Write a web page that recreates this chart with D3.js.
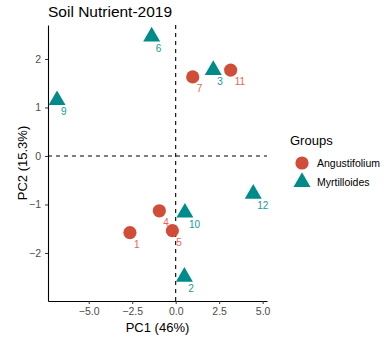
<!DOCTYPE html>
<html>
<head>
<meta charset="utf-8">
<script src="https://cdn.jsdelivr.net/npm/d3@7"></script>
<style>
body { margin: 0; background: #fff; }
text { font-family: "Liberation Sans", Arial, sans-serif; }
</style>
</head>
<body>
<script>
// PCA scores
var ids    = ["1", "2", "3", "4", "5", "6", "7", "9", "10", "11", "12"];
var groups = ["Angustifolium", "Myrtilloides", "Myrtilloides", "Angustifolium", "Angustifolium",
              "Myrtilloides", "Angustifolium", "Myrtilloides", "Myrtilloides", "Angustifolium", "Myrtilloides"];
var pc1 = [-2.63, 0.50, 2.16, -0.94, -0.19, -1.38, 0.98, -6.82, 0.53, 3.16, 4.46];
var pc2 = [-1.58, -2.49, 1.77, -1.13, -1.54, 2.46, 1.63, 1.15, -1.17, 1.77, -0.78];
var groupNames = ["Angustifolium", "Myrtilloides"];
var xTicks = [-5, -2.5, 0, 2.5, 5];
var yTicks = [-2, -1, 0, 1, 2];

var w = 390;
var h = 345;
var margin = {top: 25, right: 123, bottom: 44, left: 48};

var svg = d3.select("body")
            .append("svg")
              .attr("width", w)
              .attr("height", h);

var x = d3.scaleLinear()
          .domain([-7.34, 5.25])
          .range([margin.left, w - margin.right]);
var y = d3.scaleLinear()
          .domain([-2.99, 2.7])
          .range([h - margin.bottom, margin.top]);

var fill = d3.scaleOrdinal().domain(groupNames).range(["#d04e38", "#008b8b"]);
var labelFill = d3.scaleOrdinal().domain(groupNames).range(["#e5654f", "#179a9a"]);
var tri = d3.symbol().type(d3.symbolTriangle).size(125);

// title
svg.append("text")
   .attr("x", margin.left)
   .attr("y", 17)
   .attr("font-size", "15.5px")
   .attr("fill", "#000")
   .text("Soil Nutrient-2019");

// axes
var xAxis = svg.append("g")
   .attr("transform", "translate(0," + (h - margin.bottom) + ")")
   .call(d3.axisBottom(x).tickValues(xTicks).tickFormat(d3.format(".1f"))
           .tickSizeInner(3).tickSizeOuter(0).tickPadding(4));
var yAxis = svg.append("g")
   .attr("transform", "translate(" + margin.left + ",0)")
   .call(d3.axisLeft(y).tickValues(yTicks).tickFormat(d3.format("d"))
           .tickSizeInner(3).tickSizeOuter(0).tickPadding(4));

[xAxis, yAxis].forEach(function(a) {
  a.select(".domain").attr("stroke", "#000").attr("stroke-width", 1.1);
  a.selectAll(".tick line").attr("stroke", "#333");
  a.selectAll(".tick text").attr("fill", "#4d4d4d").attr("font-size", "10.5px")
   .attr("font-family", "Liberation Sans, Arial, sans-serif");
});

// zero lines
svg.append("line")
   .attr("x1", x(0)).attr("x2", x(0))
   .attr("y1", margin.top).attr("y2", h - margin.bottom)
   .attr("stroke", "#000").attr("stroke-width", 1.1)
   .attr("stroke-dasharray", "4,4");
svg.append("line")
   .attr("x1", margin.left).attr("x2", w - margin.right)
   .attr("y1", y(0)).attr("y2", y(0))
   .attr("stroke", "#000").attr("stroke-width", 1.1)
   .attr("stroke-dasharray", "4,4");

// axis titles
svg.append("text")
   .attr("x", (margin.left + w - margin.right) / 2)
   .attr("y", 332)
   .attr("text-anchor", "middle")
   .attr("font-size", "13px")
   .text("PC1 (46%)");
svg.append("text")
   .attr("transform", "translate(27," + (margin.top + h - margin.bottom) / 2 + ") rotate(-90)")
   .attr("text-anchor", "middle")
   .attr("font-size", "13px")
   .text("PC2 (15.3%)");

// points
var data = ids.map(function(d, i) {
  return {id: d, group: groups[i], x: pc1[i], y: pc2[i]};
});

svg.selectAll(".pt")
   .data(data)
   .enter()
   .append("path")
     .attr("class", "pt")
     .attr("transform", function(d) { return "translate(" + x(d.x) + "," + y(d.y) + ")"; })
     .attr("d", function(d) {
       return d.group === "Angustifolium" ? d3.symbol().type(d3.symbolCircle).size(Math.PI * 6.6 * 6.6)() : tri();
     })
     .attr("fill", function(d) { return fill(d.group); });

svg.selectAll(".lbl")
   .data(data)
   .enter()
   .append("text")
     .attr("class", "lbl")
     .attr("x", function(d) { return x(d.x) + 4; })
     .attr("y", function(d) { return y(d.y) + 15; })
     .attr("font-size", "10px")
     .attr("fill", function(d) { return labelFill(d.group); })
     .text(function(d) { return d.id; });

// legend
var lg = svg.append("g");
lg.append("text")
  .attr("x", 290)
  .attr("y", 145)
  .attr("font-size", "13px")
  .text("Groups");
groupNames.forEach(function(g, i) {
  var cy = 163 + i * 19;
  lg.append("path")
    .attr("transform", "translate(302," + cy + ")")
    .attr("d", i === 0 ? d3.symbol().type(d3.symbolCircle).size(Math.PI * 6.6 * 6.6)() : tri())
    .attr("fill", fill(g));
  lg.append("text")
    .attr("x", 317)
    .attr("y", cy + 4)
    .attr("font-size", "10.5px")
    .text(g);
});
</script>
</body>
</html>
